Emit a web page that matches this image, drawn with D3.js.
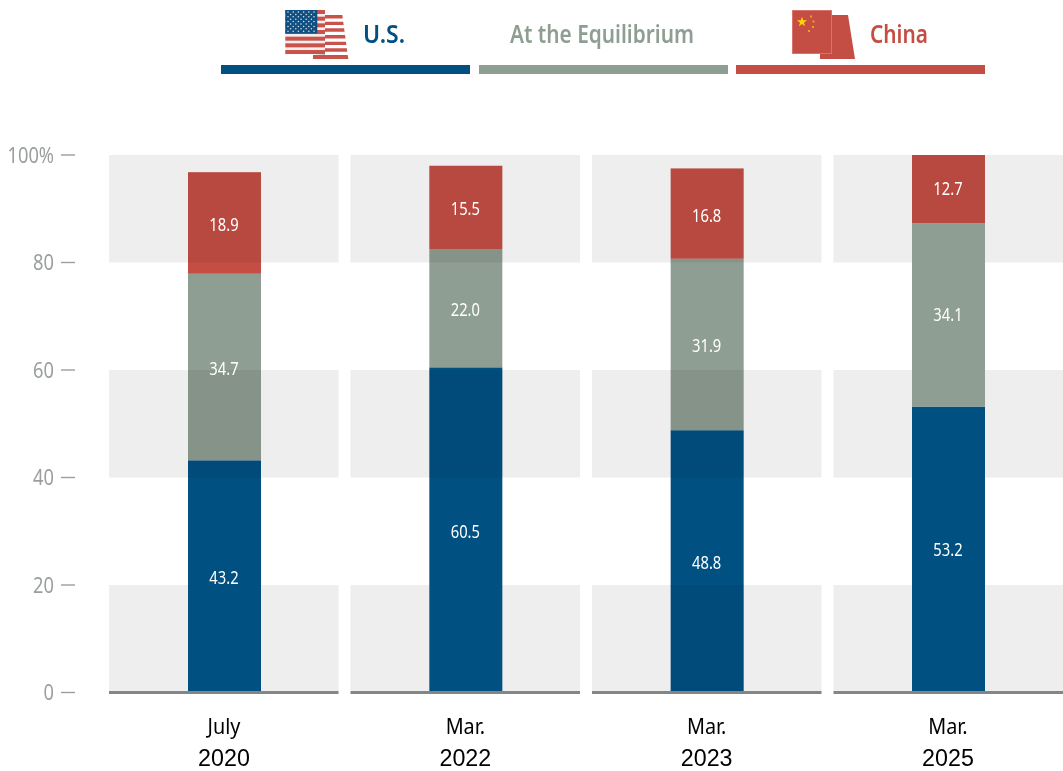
<!DOCTYPE html>
<html><head><meta charset="utf-8">
<script src="https://cdn.jsdelivr.net/npm/d3@7"></script>
<style>html,body{margin:0;padding:0;background:#fff}svg{display:block}text{font-family:"Noto Sans",Lato,sans-serif}text.yr{font-family:"Liberation Sans",sans-serif}</style>
</head><body><svg id="c" width="1063" height="771"></svg>
<script>
const months=["July","Mar.","Mar.","Mar."];
const years=["2020","2022","2023","2025"];
const usValues=[43.2,60.5,48.8,53.2];
const eqValues=[34.7,22.0,31.9,34.1];
const cnValues=[18.9,15.5,16.8,12.7];
const yTicks=[0,20,40,60,80,100];
const legendLabels=["U.S.","At the Equilibrium","China"];
const bandRanges=[[0,20],[40,60],[80,100]];
// stretches of each bar where the grey band shows through
const shadeRanges=[[[40,60],[80,100]],[[40,60],[80,100]],[[0,20],[40,60],[80,100]],[[87.3,100]]];
const BLUE="#005082",GREEN="#8f9e92",RED="#c54e44",AXIS="#9a9e9e";

const svg=d3.select("#c");
const idx=d3.range(4);
const y=d3.scaleLinear().domain([0,100]).range([692.5,155]);
const panelStep=241.6, panelW=229.5, barW=73;
const panelX=d3.scaleLinear().domain([0,3]).range([109,109+3*panelStep-0.3]);
const cx=d3.scaleLinear().domain([0,3]).range([224.5,948.5]);

function label(parent,px,py,str,size,fill,weight,sx,anchor){
  return parent.append("text")
    .attr("transform",`translate(${px},${py}) scale(${sx},1)`)
    .attr("text-anchor",anchor||"middle").attr("font-size",size)
    .attr("font-weight",weight||400).attr("fill",fill).text(str);
}
function fitted(parent,px,py,str,size,fill,weight,target){
  const t=label(parent,px,py,str,size,fill,weight,1,"start");
  const w=t.node().getComputedTextLength();
  t.attr("transform",`translate(${px},${py}) scale(${target/w},1)`);
  return t;
}

// bands
const bands=svg.append("g");
idx.forEach(i=>{
  bandRanges.forEach(([a,b])=>{
    bands.append("rect").attr("x",panelX(i)).attr("width",panelW)
      .attr("y",y(b)).attr("height",y(a)-y(b)).attr("fill","#eeeeee");
  });
});

// stacked bars
const bars=svg.append("g");
idx.forEach(i=>{
  let base=0;
  [[usValues,BLUE],[eqValues,GREEN],[cnValues,RED]].forEach(([arr,col])=>{
    const v=arr[i];
    bars.append("rect").attr("x",cx(i)-barW/2).attr("width",barW)
      .attr("y",y(base+v)).attr("height",y(base)-y(base+v)).attr("fill",col);
    base+=v;
  });
  const top=base;
  shadeRanges[i].forEach(([a,b])=>{
    const hi=Math.min(b,top), lo=a;
    bars.append("rect").attr("x",cx(i)-barW/2).attr("width",barW)
      .attr("y",y(hi)).attr("height",y(lo)-y(hi)).attr("fill","#eeeeee")
      .style("mix-blend-mode","multiply");
  });
});

// bar value labels
const barLabels=svg.append("g");
const labelNudge=[0.5,0.5,0.5,-1.5];
idx.forEach(i=>{
  let base=0;
  [usValues,eqValues,cnValues].forEach(arr=>{
    const v=arr[i];
    label(barLabels,cx(i)-0.5,y(base+v/2)+7.5+labelNudge[i],v.toFixed(1),18,"#fff",400,0.82);
    base+=v;
  });
});

// baselines
idx.forEach(i=>{
  svg.append("rect").attr("x",panelX(i)).attr("width",panelW).attr("y",691).attr("height",3).attr("fill","#858585");
});

// y axis
const yAxis=svg.append("g");
yTicks.forEach(t=>{
  yAxis.append("line").attr("x1",61).attr("x2",75).attr("y1",y(t)).attr("y2",y(t)).attr("stroke",AXIS).attr("stroke-width",1.4);
  label(yAxis,54,y(t)+7.5,t===100?"100%":String(t),21,AXIS,400,0.87,"end");
});

// x labels
idx.forEach(i=>{
  label(svg,cx(i)-0.5,734,months[i],22.5,"#000",400,0.88);
  label(svg,cx(i)-0.5,765.5,years[i],24,"#000",400,0.97).attr("class","yr");
});

// legend
[[221,BLUE],[479,GREEN],[736,RED]].forEach(([px,c])=>{
  svg.append("rect").attr("x",px).attr("y",65).attr("width",249).attr("height",9).attr("fill",c);
});
fitted(svg,363,43,legendLabels[0],26,BLUE,600,42);
fitted(svg,510,43,legendLabels[1],26,GREEN,600,184);
fitted(svg,870,43,legendLabels[2],26,RED,600,58);

// U.S. flag icon
const us=svg.append("g");
const FR="#c9524a";
for(let k=0;k<7;k++){
  const t=15+k*6.67, b=t+(k===6?4:3.4);
  const xr=v=>342.3+(v-15)*6/44;
  const lft=k===6?313:325;
  us.append("polygon").attr("points",`${lft},${t} ${xr(t)},${t} ${xr(b)},${b} ${lft},${b}`).attr("fill",FR);
}
us.append("polygon").attr("points","313,55 325,54 325,55").attr("fill","#bdbdbd");
us.append("rect").attr("x",285.3).attr("y",10).attr("width",39.7).attr("height",44).attr("fill","#f4eeee");
for(let k=0;k<7;k++){
  us.append("rect").attr("x",285.3).attr("y",10+k*6.67).attr("width",39.7).attr("height",4).attr("fill",FR);
}
us.append("rect").attr("x",285.3).attr("y",10).attr("width",32).attr("height",23.5).attr("fill","#0f4f82");
for(let r=0;r<9;r++){
  const n=r%2?5:6;
  for(let c=0;c<n;c++){
    us.append("circle").attr("cx",288+(r%2?2.6:0)+c*5.2).attr("cy",12+r*2.4).attr("r",0.75).attr("fill","#dfe8ef");
  }
}

// China flag icon
const cn=svg.append("g");
cn.append("polygon").attr("points","832,15 848,15 855,59 820,59 820,53 832,53").attr("fill",RED);
cn.append("rect").attr("x",792.5).attr("y",10.5).attr("width",39).attr("height",43).attr("fill",RED).attr("stroke","#d9746c").attr("stroke-width",1);
cn.append("path").attr("d",d3.symbol(d3.symbolStar,32)()).attr("transform","translate(802,22)").attr("fill","#ffd400");
[[811,16.5],[813.5,21.5],[813,27],[809,31]].forEach(([a,b])=>{
  cn.append("rect").attr("x",a-1).attr("y",b-1).attr("width",2).attr("height",2).attr("fill","#e8a020");
});
</script></body></html>
